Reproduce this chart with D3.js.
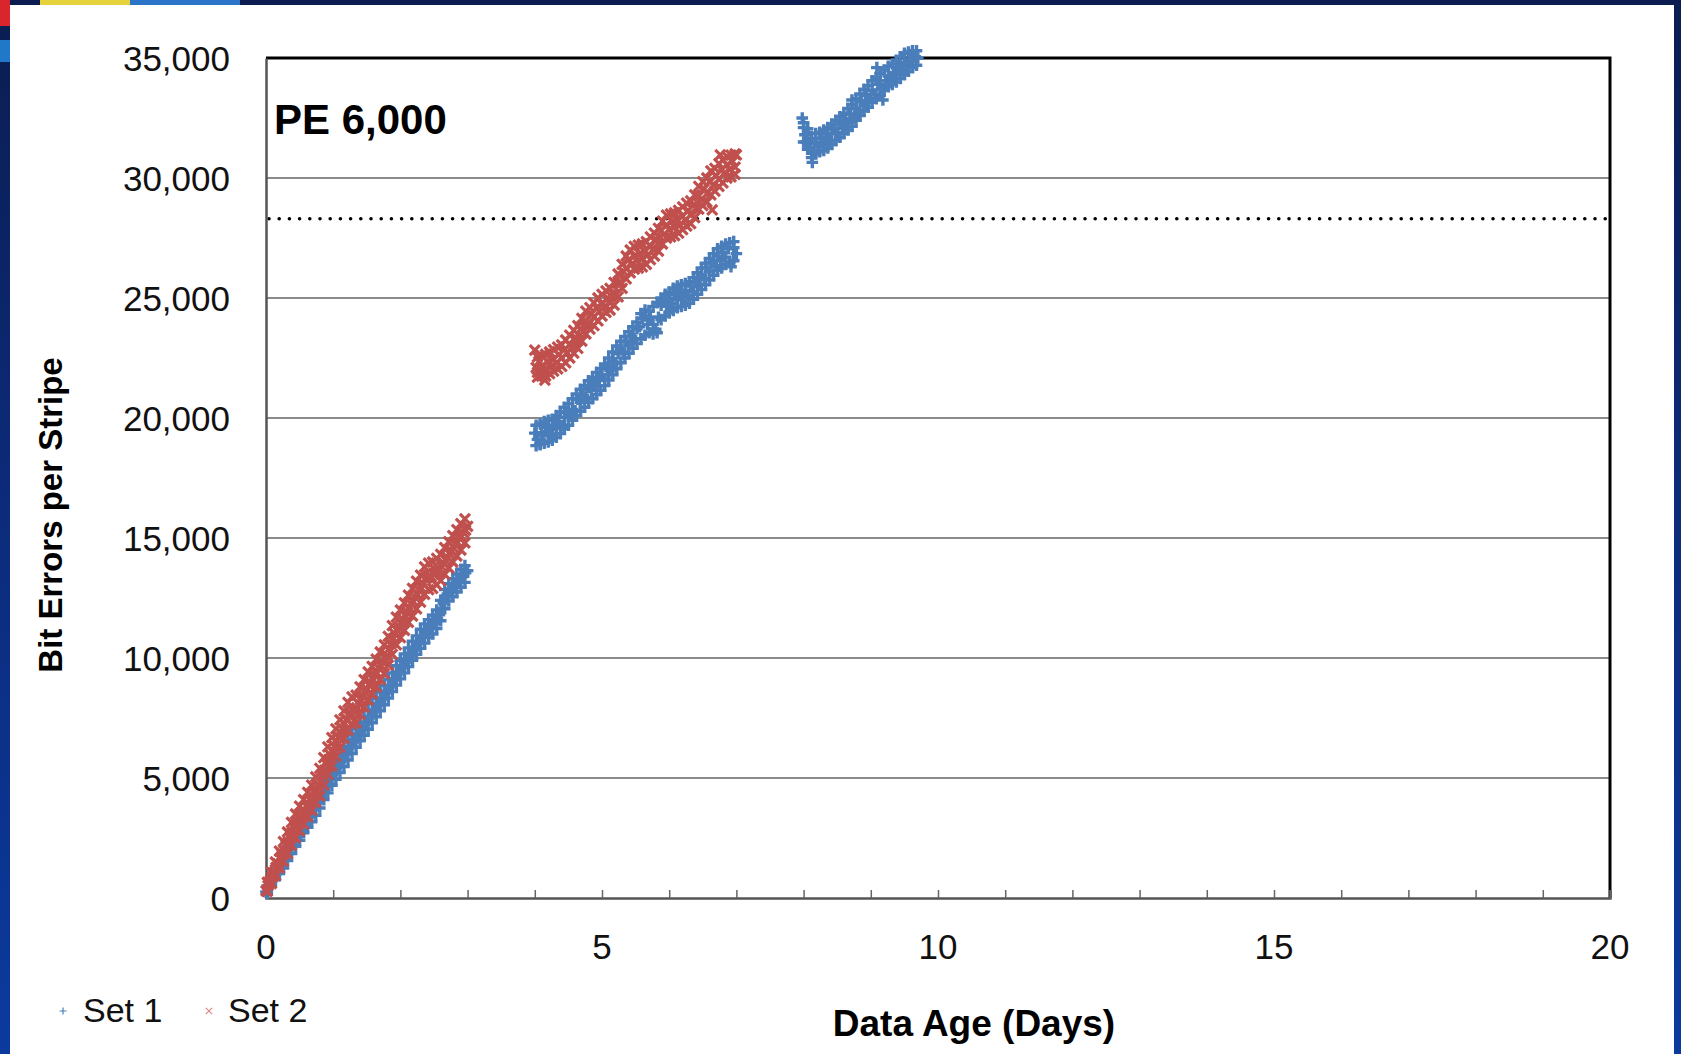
<!DOCTYPE html>
<html>
<head>
<meta charset="utf-8">
<script src="https://cdn.jsdelivr.net/npm/d3@7"></script>
<style>
  html, body { margin: 0; padding: 0; background: #0b1d50; }
  svg { display: block; }
</style>
</head>
<body>
<svg id="chart" width="1681" height="1054"></svg>
<script>
// Bit errors per stripe vs. data age, PE 6,000 cycles
const seriesNames = ["Set 1", "Set 2"];
const xTicks = [0, 5, 10, 15, 20];
const yTicks = [0, 5000, 10000, 15000, 20000, 25000, 30000, 35000];
const thresholdValue = 28300;
const panelLabel = "PE 6,000";

// Set 1, typical stripe: [days, bit errors]
const set1 = [
  [0.00,250],[0.03,420],[0.06,560],[0.09,720],[0.12,820],[0.15,1010],[0.18,1120],[0.21,1320],[0.24,1410],[0.27,1580],
  [0.30,1760],[0.33,1850],[0.36,2080],[0.39,2180],[0.42,2400],[0.45,2480],[0.48,2710],[0.51,2760],[0.54,2990],[0.57,3060],
  [0.60,3220],[0.63,3370],[0.66,3470],[0.69,3660],[0.72,3740],[0.75,3960],[0.78,4040],[0.81,4200],[0.84,4370],[0.87,4450],
  [0.90,4690],[0.93,4770],[0.96,5000],[0.99,5140],[1.02,5280],[1.05,5420],[1.08,5500],[1.11,5700],[1.14,5770],[1.17,5990],
  [1.20,6030],[1.23,6250],[1.26,6300],[1.29,6490],[1.32,6600],[1.35,6700],[1.38,6840],[1.41,6970],[1.44,7080],[1.47,7250],
  [1.50,7310],[1.53,7500],[1.56,7560],[1.59,7740],[1.62,7840],[1.65,8010],[1.68,8060],[1.71,8270],[1.74,8320],[1.77,8530],
  [1.80,8620],[1.83,8790],[1.86,8840],[1.89,9080],[1.92,9130],[1.95,9330],[1.98,9420],[2.01,9580],[2.04,9660],[2.07,9810],
  [2.10,9940],[2.13,10090],[2.16,10200],[2.19,10330],[2.22,10450],[2.25,10600],[2.28,10680],[2.31,10870],[2.34,10900],[2.37,11080],
  [2.40,11120],[2.43,11280],[2.46,11280],[2.49,11440],[2.52,11480],[2.55,11640],[2.58,11800],[2.61,12080],[2.64,12290],[2.67,12570],
  [2.70,12670],[2.73,12780],[2.76,12880],[2.79,12960],[2.82,13040],[2.85,13150],[2.88,13250],[2.91,13380],[2.94,13400],[2.97,13550],
  [3.00,13640],
  [4.00,19370],[4.04,19110],[4.08,18900],[4.10,19390],[4.12,19270],[4.16,19610],[4.20,19410],[4.24,19320],[4.28,19700],[4.32,19580],
  [4.36,19850],[4.40,19670],[4.44,20020],[4.48,20250],[4.52,20100],[4.56,20360],[4.60,20300],[4.64,20780],[4.68,20650],[4.72,20950],
  [4.76,20850],[4.80,21280],[4.84,21140],[4.88,21420],[4.92,21300],[4.96,21560],[5.00,21790],[5.04,21640],[5.08,22120],[5.12,21990],
  [5.16,22360],[5.20,22300],[5.24,22680],[5.28,22860],[5.32,22750],[5.36,23170],[5.40,23040],[5.44,23390],[5.48,23300],[5.52,23720],
  [5.56,23800],[5.60,24150],[5.64,24250],[5.68,23900],[5.72,24200],[5.76,23900],[5.80,23700],[5.84,24200],[5.88,24700],[5.92,24900],
  [5.96,24650],[6.00,25000],[6.04,24780],[6.08,25150],[6.12,24920],[6.16,25250],[6.20,25000],[6.24,25320],[6.28,25100],[6.32,25500],
  [6.36,25250],[6.40,25650],[6.44,25550],[6.48,25950],[6.52,25800],[6.56,26250],[6.60,26100],[6.64,26480],[6.68,26350],[6.72,26750],
  [6.76,26550],[6.80,26900],[6.84,26700],[6.88,27050],[6.92,26300],[6.96,27100],[7.00,26850],
  [7.98,32500],[8.00,32100],[8.02,31800],[8.04,31500],[8.06,31900],[8.08,31200],[8.10,31450],[8.13,30650],[8.14,31100],[8.18,31500],
  [8.22,31300],[8.26,31650],[8.30,31400],[8.34,31700],[8.38,31550],[8.42,31850],[8.46,32050],[8.50,31900],[8.54,32250],[8.58,32100],
  [8.62,32400],[8.66,32300],[8.70,32650],[8.72,33250],[8.74,32500],[8.78,32900],[8.82,32750],[8.86,33200],[8.90,33050],[8.94,33450],
  [8.98,33300],[9.02,33650],[9.06,33500],[9.09,34600],[9.12,33900],[9.16,33750],[9.18,33250],[9.22,34050],[9.26,34250],[9.30,34100],
  [9.34,34400],[9.38,34300],[9.42,34600],[9.46,34500],[9.50,34800],[9.54,34700],[9.58,34950],[9.62,34850],[9.66,35050],[9.70,35000]
];

// Set 1, highest and lowest stripe at each read: [days, high, low]
const set1Range = [
  [0.02,500,200],[0.08,830,500],[0.14,1200,760],[0.20,1500,1020],[0.26,1830,1250],[0.32,2150,1560],[0.38,2500,1850],[0.44,2820,2150],
  [0.50,3120,2400],[0.56,3420,2720],[0.62,3700,2950],[0.68,3920,3180],[0.74,4230,3450],[0.80,4520,3750],[0.86,4880,4100],[0.92,5150,4380],
  [0.98,5470,4700],[1.04,5730,4950],[1.10,6000,5230],[1.16,6230,5480],[1.22,6520,5750],[1.28,6800,6020],[1.34,7050,6280],[1.40,7330,6550],
  [1.46,7550,6780],[1.52,7820,7030],[1.58,8100,7300],[1.64,8320,7550],[1.70,8580,7800],[1.76,8850,8050],[1.82,9120,8330],[1.88,9380,8600],
  [1.94,9680,8870],[2.00,9900,9130],[2.06,10170,9380],[2.12,10420,9640],[2.18,10700,9900],[2.24,10920,10150],[2.30,11200,10400],[2.36,11420,10620],
  [2.42,11600,10850],[2.48,11780,11000],[2.54,12000,11230],[2.60,12400,11550],[2.66,12850,12050],[2.72,13100,12380],[2.78,13300,12550],[2.84,13500,12750],
  [2.90,13700,12950],[2.96,13850,13150],
  [4.02,19700,18850],[4.08,19750,18900],[4.14,19850,18950],[4.20,19900,19000],[4.26,19950,19080],[4.32,20100,19200],[4.38,20250,19350],[4.44,20450,19550],
  [4.50,20600,19700],[4.56,20800,19900],[4.62,21000,20100],[4.68,21200,20280],[4.74,21350,20450],[4.80,21550,20650],[4.86,21700,20800],[4.92,21900,20980],
  [4.98,22050,21150],[5.04,22250,21350],[5.10,22500,21580],[5.16,22750,21800],[5.22,23000,22050],[5.28,23200,22300],[5.34,23400,22500],[5.40,23600,22700],
  [5.46,23800,22900],[5.52,24000,23100],[5.58,24350,23300],[5.64,24500,23450],[5.70,24450,23550],[5.76,24650,23500],[5.82,24800,23550],[5.88,25000,24100],
  [5.94,25150,24250],[6.00,25250,24380],[6.06,25400,24480],[6.12,25500,24600],[6.18,25550,24650],[6.24,25600,24700],[6.30,25680,24780],[6.36,25850,24950],
  [6.42,26050,25150],[6.48,26250,25350],[6.54,26450,25550],[6.60,26650,25750],[6.66,26850,25950],[6.72,27050,26150],[6.78,27150,26250],[6.84,27250,26400],
  [6.90,27300,26500],[6.96,27350,26550],
  [8.00,32300,31500],[8.06,32050,31200],[8.12,31650,30850],[8.18,31850,31000],[8.24,31900,31100],[8.30,32000,31150],[8.36,32100,31250],[8.42,32250,31400],
  [8.48,32400,31550],[8.54,32550,31700],[8.60,32700,31850],[8.66,32900,32000],[8.72,33050,32150],[8.78,33300,32400],[8.84,33500,32600],[8.90,33700,32800],
  [8.96,33850,32950],[9.02,34050,33150],[9.08,34200,33300],[9.14,34350,33450],[9.20,34500,33650],[9.26,34650,33800],[9.32,34750,33900],[9.38,34900,34000],
  [9.44,35050,34150],[9.50,35200,34300],[9.56,35250,34450],[9.62,35300,34600],[9.68,35300,34700]
];

// Set 2, typical stripe: [days, bit errors]
const set2 = [
  [0.00,300],[0.03,520],[0.06,700],[0.09,880],[0.12,1060],[0.15,1280],[0.18,1420],[0.21,1640],[0.24,1810],[0.27,1960],
  [0.30,2200],[0.33,2330],[0.36,2540],[0.39,2740],[0.42,2900],[0.45,3060],[0.48,3190],[0.51,3380],[0.54,3500],[0.57,3640],
  [0.60,3830],[0.63,3920],[0.66,4100],[0.69,4230],[0.72,4400],[0.75,4560],[0.78,4700],[0.81,4880],[0.84,5150],[0.87,5320],
  [0.90,5580],[0.93,5760],[0.96,5950],[0.99,6150],[1.02,6330],[1.05,6540],[1.08,6700],[1.11,6900],[1.14,7050],[1.17,7270],
  [1.20,7420],[1.23,7640],[1.26,7700],[1.29,7810],[1.32,7760],[1.35,7920],[1.38,8100],[1.41,8280],[1.44,8400],[1.47,8600],
  [1.50,8700],[1.53,8880],[1.56,8960],[1.59,9120],[1.62,9290],[1.65,9380],[1.68,9580],[1.71,9680],[1.74,9820],[1.77,9990],
  [1.80,10100],[1.83,10380],[1.86,10600],[1.89,10800],[1.92,11000],[1.95,11170],[1.98,11280],[2.01,11470],[2.04,11600],[2.07,11780],
  [2.10,11900],[2.13,12100],[2.16,12240],[2.19,12360],[2.22,12530],[2.25,12650],[2.28,12820],[2.31,12920],[2.34,13100],[2.37,13300],
  [2.40,13350],[2.43,13420],[2.46,13380],[2.49,13500],[2.52,13560],[2.55,13600],[2.58,13680],[2.61,13820],[2.64,13950],[2.67,14080],
  [2.70,14180],[2.73,14350],[2.76,14460],[2.79,14600],[2.82,14750],[2.85,14820],[2.88,15000],[2.91,15080],[2.94,15220],[2.97,15330],
  [3.00,15480],
  [4.00,22830],[4.02,22100],[4.04,21900],[4.06,22350],[4.08,21950],[4.12,22200],[4.15,21580],[4.16,22050],[4.20,22350],[4.24,22150],
  [4.28,22450],[4.32,22300],[4.36,22650],[4.40,22500],[4.44,22850],[4.48,22700],[4.52,23050],[4.56,22950],[4.60,23350],[4.64,23250],
  [4.68,23700],[4.72,23600],[4.76,24050],[4.80,23900],[4.84,24350],[4.88,24200],[4.92,24600],[4.96,24450],[5.00,24750],[5.04,24650],
  [5.08,25000],[5.12,24800],[5.16,25200],[5.20,25150],[5.24,25600],[5.28,25650],[5.32,26100],[5.36,26250],[5.40,26600],[5.44,26400],
  [5.48,26750],[5.52,26550],[5.56,26850],[5.60,26650],[5.64,26950],[5.68,26800],[5.72,27150],[5.76,27000],[5.80,27450],[5.84,27300],
  [5.88,27800],[5.92,27650],[5.96,28050],[6.00,27850],[6.04,28200],[6.08,27950],[6.12,28250],[6.16,28050],[6.20,28400],[6.24,28250],
  [6.28,28650],[6.32,28450],[6.36,28850],[6.40,28750],[6.44,29250],[6.48,29100],[6.52,29550],[6.56,29350],[6.60,29850],[6.64,28670],
  [6.66,29700],[6.70,30100],[6.74,29950],[6.76,30960],[6.78,30350],[6.82,30200],[6.86,30550],[6.90,30350],[6.94,30700],[6.98,30450],
  [7.00,30960]
];

// Set 2, highest and lowest stripe at each read: [days, high, low]
const set2Range = [
  [0.02,650,280],[0.08,1080,600],[0.14,1500,930],[0.20,1950,1250],[0.26,2350,1530],[0.32,2750,1850],[0.38,3150,2200],[0.44,3500,2520],
  [0.50,3830,2800],[0.56,4100,3080],[0.62,4400,3380],[0.68,4700,3650],[0.74,5050,3980],[0.80,5400,4250],[0.86,5850,4700],[0.92,6300,5150],
  [0.98,6680,5500],[1.04,7050,5900],[1.10,7420,6280],[1.16,7800,6650],[1.22,8150,7000],[1.28,8380,7250],[1.34,8450,7300],[1.40,8800,7650],
  [1.46,9100,7950],[1.52,9420,8250],[1.58,9650,8500],[1.64,9950,8800],[1.70,10250,9100],[1.76,10550,9350],[1.82,10900,9700],[1.88,11350,10150],
  [1.94,11700,10550],[2.00,12000,10850],[2.06,12300,11150],[2.12,12620,11480],[2.18,12900,11750],[2.24,13200,12050],[2.30,13450,12330],[2.36,13800,12650],
  [2.42,13950,12850],[2.48,14000,12900],[2.54,14150,13050],[2.60,14320,13220],[2.66,14600,13480],[2.72,14850,13750],[2.78,15100,14000],[2.84,15350,14250],
  [2.90,15600,14500],[2.96,15800,14800],
  [4.04,22550,21700],[4.10,22600,21750],[4.16,22650,21750],[4.22,22750,21850],[4.28,22850,21950],[4.34,22950,22050],[4.40,23050,22150],[4.46,23250,22300],
  [4.52,23450,22500],[4.58,23650,22700],[4.64,23850,22900],[4.70,24150,23200],[4.76,24450,23500],[4.82,24600,23700],[4.88,24800,23850],[4.94,25000,24050],
  [5.00,25150,24250],[5.06,25300,24400],[5.12,25400,24500],[5.18,25650,24700],[5.24,26000,25050],[5.30,26400,25400],[5.36,26750,25800],[5.42,27000,26050],
  [5.48,27150,26200],[5.54,27200,26250],[5.60,27250,26300],[5.66,27350,26400],[5.72,27550,26600],[5.78,27700,26750],[5.84,27900,26950],[5.90,28200,27250],
  [5.96,28450,27500],[6.02,28500,27550],[6.08,28550,27600],[6.14,28650,27700],[6.20,28800,27850],[6.26,28950,28000],[6.32,29050,28100],[6.38,29300,28350],
  [6.44,29650,28700],[6.50,29850,28850],[6.56,30000,29000],[6.62,30300,29300],[6.68,30400,29450],[6.74,30600,29650],[6.80,30750,29800],[6.86,30900,30000],
  [6.92,30950,30050],[6.98,31000,30150]
];

const colors = { set1: "#4a7ebb", set2: "#c0504d" };

const svg = d3.select("#chart");
const W = 1681, H = 1054;

// Slide backdrop
const defs = svg.append("defs");
const sideGrad = defs.append("linearGradient").attr("id", "side").attr("x1", 0).attr("y1", 0).attr("x2", 0).attr("y2", 1);
sideGrad.append("stop").attr("offset", "0%").attr("stop-color", "#0b1d50");
sideGrad.append("stop").attr("offset", "45%").attr("stop-color", "#0c2a78");
sideGrad.append("stop").attr("offset", "100%").attr("stop-color", "#0b3a9e");
svg.append("rect").attr("width", W).attr("height", H).attr("fill", "url(#side)");
svg.append("rect").attr("x", 0).attr("y", 0).attr("width", W).attr("height", 5).attr("fill", "#0b1d50");
svg.append("rect").attr("x", 0).attr("y", 0).attr("width", 10).attr("height", 26).attr("fill", "#d8262c");
svg.append("rect").attr("x", 0).attr("y", 40).attr("width", 10).attr("height", 22).attr("fill", "#1f78c8");
svg.append("rect").attr("x", 40).attr("y", 0).attr("width", 90).attr("height", 5).attr("fill", "#e6d23a");
svg.append("rect").attr("x", 130).attr("y", 0).attr("width", 110).attr("height", 5).attr("fill", "#2b74c7");

// White chart panel
svg.append("rect").attr("x", 10).attr("y", 5).attr("width", 1664).attr("height", H - 5).attr("fill", "#ffffff");

const m = { left: 266, right: 1610, top: 58, bottom: 898 };
const x = d3.scaleLinear().domain([0, 20]).range([m.left, m.right]);
const y = d3.scaleLinear().domain([0, 35000]).range([m.bottom, m.top]);

const font = "'Liberation Sans', Arial, sans-serif";

// Horizontal gridlines
svg.append("g").selectAll("line").data(yTicks.filter(v => v > 0 && v < 35000)).join("line")
  .attr("x1", m.left).attr("x2", m.right)
  .attr("y1", d => y(d)).attr("y2", d => y(d))
  .attr("stroke", "#8a8a8a").attr("stroke-width", 2);

// Threshold line (dotted)
svg.append("line")
  .attr("x1", x(0) + 3).attr("x2", m.right - 2)
  .attr("y1", y(thresholdValue)).attr("y2", y(thresholdValue))
  .attr("stroke", "#000").attr("stroke-width", 3.6)
  .attr("stroke-linecap", "round").attr("stroke-dasharray", "0 10.2");

// Plot frame: top and right edges black
svg.append("path")
  .attr("d", `M${m.left},${m.top}H${m.right}V${m.bottom}`)
  .attr("fill", "none").attr("stroke", "#000").attr("stroke-width", 3);

// Bottom axis with inward minor ticks every day
const xAxis = d3.axisBottom(x).tickValues(d3.range(0, 21, 1)).tickSize(-8).tickFormat("");
const gx = svg.append("g").attr("transform", `translate(0,${m.bottom})`).call(xAxis);
gx.select(".domain").attr("stroke", "#555").attr("stroke-width", 2.5);
gx.selectAll(".tick line").attr("stroke", "#666").attr("stroke-width", 1.5);

// Left axis
const yAxis = d3.axisLeft(y).tickValues(yTicks).tickSize(0).tickFormat("");
const gy = svg.append("g").attr("transform", `translate(${m.left},0)`).call(yAxis);
gy.select(".domain").attr("stroke", "#555").attr("stroke-width", 2.5);

// Tick labels
const fmt = d3.format(",");
svg.append("g").selectAll("text").data(yTicks).join("text")
  .attr("x", m.left - 36).attr("y", d => y(d)).attr("dy", "0.36em")
  .attr("text-anchor", "end").attr("font-family", font).attr("font-size", 35)
  .attr("fill", "#111").text(d => fmt(d));
svg.append("g").selectAll("text").data(xTicks).join("text")
  .attr("x", d => x(d)).attr("y", m.bottom + 61)
  .attr("text-anchor", "middle").attr("font-family", font).attr("font-size", 35)
  .attr("fill", "#111").text(d => d);

// Axis titles
svg.append("text")
  .attr("transform", `translate(62,515) rotate(-90)`)
  .attr("text-anchor", "middle").attr("font-family", font).attr("font-weight", "bold")
  .attr("font-size", 33).attr("fill", "#000").text("Bit Errors per Stripe");
svg.append("text")
  .attr("x", 974).attr("y", 1036)
  .attr("text-anchor", "middle").attr("font-family", font).attr("font-weight", "bold")
  .attr("font-size", 37).attr("fill", "#000").text("Data Age (Days)");

// Panel label
svg.append("text")
  .attr("x", 274).attr("y", 134)
  .attr("font-family", font).attr("font-weight", "bold")
  .attr("font-size", 42).attr("fill", "#000").text(panelLabel);

// Marker shapes
const plusPath = s => `M${-s},0H${s}M0,${-s}V${s}`;
const crossPath = s => `M${-s},${-s}L${s},${s}M${-s},${s}L${s},${-s}`;

// Flatten [day, high, low] rows into points
const spreadPoints = rows => rows.flatMap(r => [[r[0], r[1]], [r[0], r[2]]]);

// Set 1 markers (+)
svg.append("g").selectAll("path").data(spreadPoints(set1Range).concat(set1)).join("path")
  .attr("transform", d => `translate(${x(d[0])},${y(d[1])})`)
  .attr("d", plusPath(5.8))
  .attr("stroke", colors.set1).attr("stroke-width", 3.4).attr("fill", "none");

// Set 2 markers (x)
svg.append("g").selectAll("path").data(spreadPoints(set2Range).concat(set2)).join("path")
  .attr("transform", d => `translate(${x(d[0])},${y(d[1])})`)
  .attr("d", crossPath(5))
  .attr("stroke", colors.set2).attr("stroke-width", 3.2).attr("fill", "none");

// Legend
const legend = svg.append("g").attr("font-family", font).attr("font-size", 34).attr("fill", "#111");
legend.append("path").attr("transform", "translate(63,1011)").attr("d", plusPath(3.5))
  .attr("stroke", colors.set1).attr("stroke-width", 1.2).attr("fill", "none");
legend.append("text").attr("x", 83).attr("y", 1022).text(seriesNames[0]);
legend.append("path").attr("transform", "translate(209,1011)").attr("d", crossPath(3.2))
  .attr("stroke", "#d98a88").attr("stroke-width", 1.2).attr("fill", "none");
legend.append("text").attr("x", 228).attr("y", 1022).text(seriesNames[1]);
</script>
</body>
</html>
